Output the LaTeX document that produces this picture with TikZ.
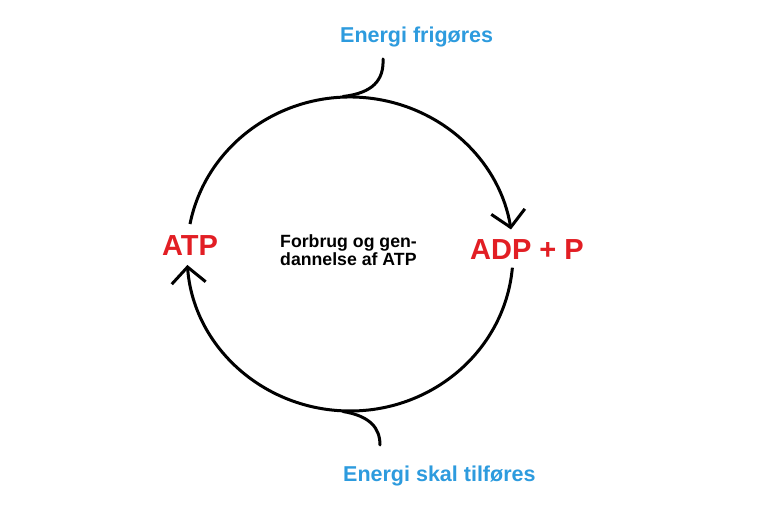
\documentclass[tikz,border=0pt]{standalone}
\usepackage{fontspec}
\setmainfont{Liberation Sans}
\usetikzlibrary{arrows.meta}
\definecolor{energyblue}{RGB}{45,155,222}
\definecolor{atpred}{RGB}{226,30,36}

\begin{document}
\begin{tikzpicture}[x=1pt,y=1pt,
  every node/.style={inner sep=0pt},
  energy/.style={text=energyblue,font=\fontsize{21.5}{24}\selectfont\bfseries},
  molecule/.style={text=atpred,font=\fontsize{29}{32}\selectfont\bfseries},
  note/.style={align=left,font=\fontsize{17.7}{18}\selectfont\bfseries},
  cycle/.style={line width=3pt,-{Straight Barb[length=16pt,width=34pt]}},
  branch/.style={line width=3pt,line cap=round}
]
  \fill[white] (0,0) rectangle (764,520);
  \useasboundingbox (0,0) rectangle (764,520);
  \coordinate (c) at (350,266);

  \node[energy,anchor=base west]   (free) at (340,477) {Energi frigøres};
  \node[energy,anchor=base west]   (need) at (343,38)  {Energi skal tilføres};
  \node[molecule,anchor=base west] (atp)  at (162,264) {ATP};
  \node[molecule,anchor=base west] (adp)  at (470,260) {ADP + P};
  \node[note,anchor=north west]    (mid)  at (280,285.5) {Forbrug og gen-\\dannelse af ATP};

  % the two halves of the cycle
  \draw[cycle] ([shift={(169:163 and 157)}]c) arc[start angle=169,end angle=9,x radius=163,y radius=157];
  \draw[cycle] ([shift={(-5:163 and 157)}]c) arc[start angle=-5,end angle=-176,x radius=163,y radius=157];

  % energy in and out
  \coordinate (top) at (383,461);
  \coordinate (bot) at (380,75);
  \draw[branch] (top) .. controls (384,440) and (373,427) .. (343,423.5);
  \draw[branch] (bot) .. controls (380,92) and (370,104) .. (343,108.5);
\end{tikzpicture}
\end{document}
